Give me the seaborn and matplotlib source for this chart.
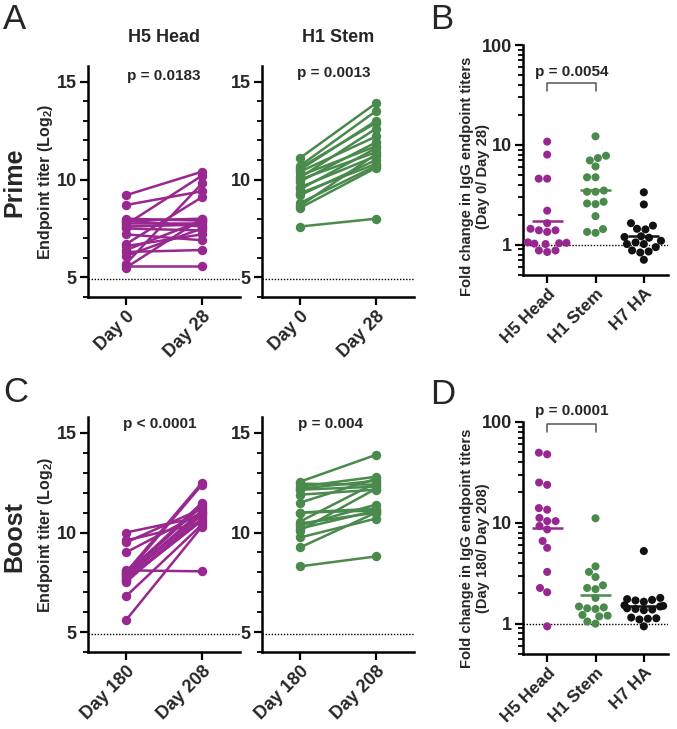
import numpy as np
import pandas as pd
import matplotlib
matplotlib.use("Agg")
import matplotlib.pyplot as plt
import seaborn as sns
from matplotlib.ticker import MultipleLocator, LogLocator, NullFormatter, FixedLocator, FixedFormatter

sns.set_theme(style="ticks")
plt.rcParams['font.family'] = ['Liberation Sans', 'DejaVu Sans']
plt.rcParams['font.weight'] = 'bold'
plt.rcParams['mathtext.fontset'] = 'custom'
plt.rcParams['mathtext.bf'] = 'Liberation Sans:bold'
plt.rcParams['mathtext.rm'] = 'Liberation Sans:bold'

# ---------------- data ----------------
prime_days = ["Day 0", "Day 28"]
boost_days = ["Day 180", "Day 208"]

prime_h5_day0 = [9.2, 8.7, 8.0, 7.9, 7.9, 7.8, 7.7, 7.6, 7.5, 7.2, 6.7, 6.6, 6.4, 6.3, 6.1, 5.7, 5.6, 5.5]
prime_h5_day28 = [10.4, 9.4, 7.9, 8.0, 7.6, 7.8, 10.2, 7.7, 7.4, 6.9, 9.1, 7.2, 7.9, 6.4, 7.5, 9.8, 5.6, 8.0]

prime_h1_day0 = [11.1, 10.7, 10.6, 10.5, 10.4, 10.2, 10.1, 10.0, 9.9, 9.6, 9.5, 9.3, 9.2, 8.8, 8.65, 8.55, 7.6]
prime_h1_day28 = [13.9, 13.5, 12.9, 13.0, 12.2, 11.7, 12.6, 11.4, 11.9, 11.2, 11.6, 10.8, 11.0, 10.7, 11.3, 10.6, 8.0]

boost_h5_day180 = [10.0, 9.6, 9.5, 9.0, 8.1, 8.0, 7.9, 7.9, 7.8, 7.75, 7.6, 7.5, 6.8, 5.6, 8.0, 7.7, 7.6]
boost_h5_day208 = [10.8, 10.5, 11.2, 11.0, 8.05, 12.5, 12.4, 11.5, 11.4, 11.1, 10.7, 10.9, 10.4, 10.3, 11.3, 11.0, 10.6]

boost_h1_day180 = [12.55, 12.45, 12.3, 12.15, 11.9, 11.5, 11.0, 10.55, 10.45, 10.35, 10.2, 10.1, 9.75, 9.25, 8.3, 11.0, 12.2]
boost_h1_day208 = [13.9, 12.4, 12.8, 12.3, 12.15, 12.7, 11.2, 12.5, 11.0, 11.4, 11.1, 12.2, 10.7, 11.0, 8.8, 11.1, 12.6]

groups = ["H5 Head", "H1 Stem", "H7 HA"]
fold_prime_h5 = [10.8, 8.0, 4.6, 4.6, 2.2, 1.65, 1.45, 1.4, 1.4, 1.35, 1.06, 1.04, 1.02, 1.03, 1.05, 0.88, 0.85, 0.88]
fold_prime_h1 = [12.2, 7.8, 7.0, 7.4, 6.1, 4.75, 4.75, 3.4, 3.5, 3.4, 2.7, 2.56, 2.6, 1.94, 1.44, 1.32, 1.35]
fold_prime_h7 = [3.36, 2.54, 1.56, 1.65, 1.43, 1.45, 1.2, 1.18, 1.22, 1.1, 1.02, 1.06, 1.02, 0.95, 0.88, 0.84, 0.86, 0.71]

fold_boost_h5 = [49.6, 47.8, 23.8, 25.1, 13.5, 14.0, 10.4, 11.2, 10.4, 8.6, 9.3, 6.6, 5.65, 3.26, 2.26, 2.05, 0.94]
fold_boost_h1 = [11.1, 3.7, 3.26, 2.9, 2.4, 2.26, 2.2, 1.8, 1.45, 1.42, 1.48, 1.4, 1.18, 1.22, 1.2, 1.0, 1.05]
fold_boost_h7 = [5.25, 1.8, 1.75, 1.7, 1.72, 1.65, 1.5, 1.52, 1.48, 1.4, 1.38, 1.36, 1.42, 1.12, 1.15, 1.1, 1.13, 0.94]

p_prime = ["p = 0.0183", "p = 0.0013"]
p_boost = ["p < 0.0001", "p = 0.004"]
p_fold = ["p = 0.0054", "p = 0.0001"]
detection_limit = np.log2(30)

MAG = '#98288f'
GRN = '#4a8a4c'
BLK = '#111111'

W, H = 677, 729
fig = plt.figure(figsize=(W / 100, H / 100), dpi=100)


def axes_px(left, top, right, bottom):
    return fig.add_axes([left / W, 1 - bottom / H, (right - left) / W, (bottom - top) / H])


def style_axis(ax):
    sns.despine(ax=ax)
    for s in ['left', 'bottom']:
        ax.spines[s].set_linewidth(1.8)
        ax.spines[s].set_color('black')
    ax.tick_params(axis='both', which='major', direction='out', length=6, width=1.6,
                   labelsize=13, color='black', pad=2)
    ax.tick_params(axis='y', which='minor', direction='out', length=3.5, width=1.3, color='black')
    ax.tick_params(axis='x', which='minor', bottom=False)
    ax.set_xlabel('')
    for lab in ax.get_xticklabels() + ax.get_yticklabels():
        lab.set_fontweight('bold')


def paired(ax, d0, d1, days, color, ptext, px, py, ylabel):
    n = len(d0)
    df = pd.DataFrame({'subject': list(range(n)) * 2,
                       'day': [days[0]] * n + [days[1]] * n,
                       'titer': list(d0) + list(d1)})
    sns.lineplot(data=df, x='day', y='titer', units='subject', estimator=None, sort=False,
                 color=color, marker='o', markersize=6.8, markeredgewidth=0, linewidth=1.8, ax=ax)
    ax.axhline(detection_limit, ls=(0, (1, 1.2)), color='black', lw=1.0)
    ax.set_xlim(-0.5, 1.5)
    ax.set_ylim(4, 15.8)
    ax.yaxis.set_major_locator(FixedLocator([5, 10, 15]))
    ax.yaxis.set_minor_locator(MultipleLocator(1))
    style_axis(ax)
    ax.set_xticks([0, 1])
    ax.set_xticklabels(days, rotation=45, ha='right', rotation_mode='anchor', fontweight='bold')
    ax.text(px, py, ptext, transform=ax.transAxes, ha='center', va='center', fontsize=11, fontweight='bold')
    if ylabel:
        ax.set_ylabel(r"Endpoint titer (Log$_{\mathbf{2}}$)", fontsize=11.5, fontweight='bold')
        ax.yaxis.set_label_coords(-0.22, 0.5)
    else:
        ax.set_ylabel('')


def fold(ax, vals, ptext, ylabel, label_y, bracket_lo, bracket_hi, text_y):
    colors = [MAG, GRN, BLK]
    df = pd.DataFrame({'group': sum([[g] * len(v) for g, v in zip(groups, vals)], []),
                       'fold': sum([list(v) for v in vals], [])})
    sns.swarmplot(data=df, x='group', y='fold', hue='group', palette=dict(zip(groups, colors)),
                  size=5.8, ax=ax, legend=False, log_scale=True, linewidth=0, warn_thresh=1)
    for i, (v, c) in enumerate(zip(vals, colors)):
        gm = 10 ** np.mean(np.log10(v))
        ax.hlines(gm, i - 0.32, i + 0.32, color=c, lw=1.8, zorder=5)
    ax.axhline(1, ls=(0, (1, 1.2)), color='black', lw=1.0)
    ax.set_xlim(-0.5, 2.5)
    ax.set_ylim(0.5, 100)
    ax.yaxis.set_major_locator(FixedLocator([1, 10, 100]))
    ax.yaxis.set_major_formatter(FixedFormatter(['1', '10', '100']))
    ax.yaxis.set_minor_locator(LogLocator(base=10, subs=np.arange(2, 10)))
    ax.yaxis.set_minor_formatter(NullFormatter())
    style_axis(ax)
    ax.set_xticks([0, 1, 2])
    ax.set_xticklabels(groups, rotation=45, ha='right', rotation_mode='anchor', fontweight='bold', fontsize=12.5)
    ax.plot([0, 0, 1, 1], [bracket_lo, bracket_hi, bracket_hi, bracket_lo], color='#555555', lw=1.1, clip_on=False)
    ax.text(0.5, text_y, ptext, ha='center', va='center', fontsize=11, fontweight='bold', clip_on=False)
    ax.set_ylabel(ylabel, fontsize=10.6, fontweight='bold', linespacing=1.25)
    ax.yaxis.set_label_coords(-0.225, label_y)


# Panel A
axA1 = axes_px(88, 66, 240, 297)
paired(axA1, prime_h5_day0, prime_h5_day28, prime_days, MAG, p_prime[0], 0.5, 0.955, True)
axA2 = axes_px(262, 66, 414, 297)
paired(axA2, prime_h1_day0, prime_h1_day28, prime_days, GRN, p_prime[1], 0.47, 0.97, False)

# Panel C
axC1 = axes_px(88, 417, 240, 652)
paired(axC1, boost_h5_day180, boost_h5_day208, boost_days, MAG, p_boost[0], 0.47, 0.97, True)
axC2 = axes_px(262, 417, 414, 652)
paired(axC2, boost_h1_day180, boost_h1_day208, boost_days, GRN, p_boost[1], 0.45, 0.97, False)

# Panel B
axB = axes_px(523, 45, 668, 275)
fold(axB, [fold_prime_h5, fold_prime_h1, fold_prime_h7], p_fold[0],
     "Fold change in IgG endpoint titers\n(Day 0/ Day 28)", 0.43, 34.5, 41.5, 53.6)

# Panel D
axD = axes_px(523, 422, 668, 654)
fold(axD, [fold_boost_h5, fold_boost_h1, fold_boost_h7], p_fold[1],
     "Fold change in IgG endpoint titers\n(Day 180/ Day 208)", 0.455, 79.6, 95.5, 128)

# Titles and labels
fig.text(164 / W, 1 - 38 / H, "H5 Head", ha='center', va='center', fontsize=13, fontweight='bold')
fig.text(338 / W, 1 - 38 / H, "H1 Stem", ha='center', va='center', fontsize=13, fontweight='bold')
fig.text(14 / W, 1 - 182 / H, "Prime", rotation=90, ha='center', va='center', fontsize=18, fontweight='bold')
fig.text(14 / W, 1 - 537 / H, "Boost", rotation=90, ha='center', va='center', fontsize=18, fontweight='bold')
for letter, x, y in [("A", 3, 3), ("B", 430, 3), ("C", 3, 376), ("D", 430, 378)]:
    fig.text(x / W, 1 - y / H, letter, ha='left', va='top', fontsize=25, fontweight='normal')

fig.savefig("out.png", dpi=100)
